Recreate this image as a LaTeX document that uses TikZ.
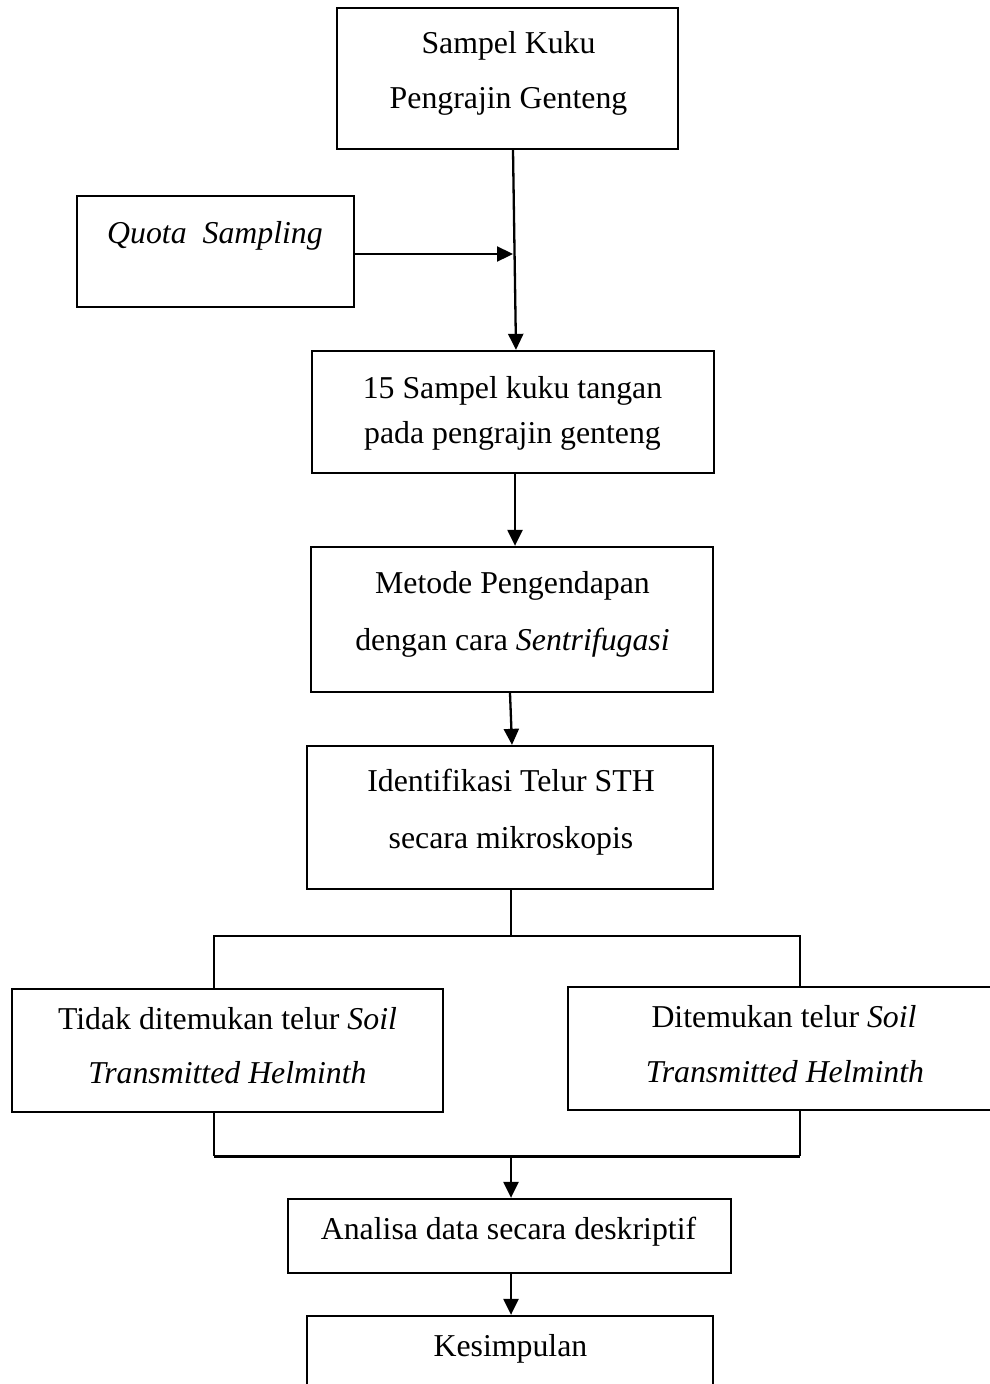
\documentclass[tikz,border=0pt]{standalone}
\usepackage{fontspec}
\setmainfont{Liberation Serif}
\usetikzlibrary{arrows.meta}
\begin{document}
\begin{tikzpicture}[x=1pt,y=-1pt,
  box/.style={draw=black,line width=2.3pt,rectangle,inner sep=0pt},
  txt/.style={anchor=base,inner sep=0pt,font=\fontsize{31.8}{38}\selectfont},
  con/.style={line width=2.3pt},
  arr/.style={line width=2.3pt,-{Triangle[length=16pt,width=15pt]}}]
\useasboundingbox (0,0) rectangle (990,1384);
\clip (0,0) rectangle (990,1384);
\fill[white] (0,0) rectangle (990,1384);
% boxes
\node[box,minimum width=341pt,minimum height=141pt] (b1) at (507.5,78.5) {};
\node[box,minimum width=277pt,minimum height=111pt] (bq) at (215.5,251.5) {};
\node[box,minimum width=402pt,minimum height=122pt] (b3) at (513,412) {};
\node[box,minimum width=402pt,minimum height=145pt] (b4) at (512,619.5) {};
\node[box,minimum width=406pt,minimum height=143pt] (b5) at (510,817.5) {};
\node[box,minimum width=431pt,minimum height=123pt] (b6) at (227.5,1050.5) {};
\node[box,minimum width=438pt,minimum height=123pt] (b7) at (787,1048.5) {};
\node[box,minimum width=443pt,minimum height=74pt] (b8) at (509.5,1236) {};
\node[box,minimum width=406pt,minimum height=84pt] (b9) at (510,1358) {};
% texts
\node[txt] (t1a) at (508.5,53) {Sampel Kuku};
\node[txt] (t1b) at (508.5,108) {Pengrajin Genteng};
\node[txt] (tq) at (215,243) {\textit{Quota\ \ Sampling}};
\node[txt] (t3a) at (512.5,398) {15 Sampel kuku tangan};
\node[txt] (t3b) at (512.5,443) {pada pengrajin genteng};
\node[txt] (t4a) at (512.5,593) {Metode Pengendapan};
\node[txt] (t4b) at (512.5,650) {dengan cara \textit{Sentrifugasi}};
\node[txt] (t5a) at (511,791) {Identifikasi Telur STH};
\node[txt] (t5b) at (511,848) {secara mikroskopis};
\node[txt] (t6a) at (227.5,1029) {Tidak ditemukan telur \textit{Soil}};
\node[txt] (t6b) at (227.5,1083) {\textit{Transmitted Helminth}};
\node[txt] (t7a) at (784,1027) {Ditemukan telur \textit{Soil}};
\node[txt] (t7b) at (785,1082) {\textit{Transmitted Helminth}};
\node[txt] (t8) at (508.5,1239) {Analisa data secara deskriptif};
\node[txt] (t9) at (510.5,1356) {Kesimpulan};
% junction coordinates
\coordinate (j1) at (513,254);
\coordinate (s1) at (511,936);
\coordinate (sl) at (214,936);
\coordinate (sr) at (800,936);
\coordinate (ml) at (214,1156);
\coordinate (mr) at (800,1156);
\coordinate (mm) at (511,1156);
% connectors
\draw[arr] ([xshift=5.5pt]b1.south) -- ([xshift=3pt]b3.north);
\draw[arr] ([yshift=-2.5pt]bq.east) -- (j1);
\draw[arr] ([xshift=2pt]b3.south) -- ([xshift=3pt]b4.north);
\draw[arr] ([xshift=-2pt]b4.south) -- ([xshift=2pt]b5.north);
\draw[con] ([xshift=1pt]b5.south) -- (s1);
\draw[con] (b6.north -| sl) -- (sl) -- (sr) -- (b7.north -| sr);
\draw[con] (b6.south -| ml) -- (ml);
\draw[con] (b7.south -| mr) -- (mr);
\draw[line width=3pt] (ml) -- (mr);
\draw[arr] (mm) -- (b8.north -| mm);
\draw[arr] ([xshift=1.5pt]b8.south) -- ([xshift=1pt]b9.north);
\end{tikzpicture}
\end{document}
